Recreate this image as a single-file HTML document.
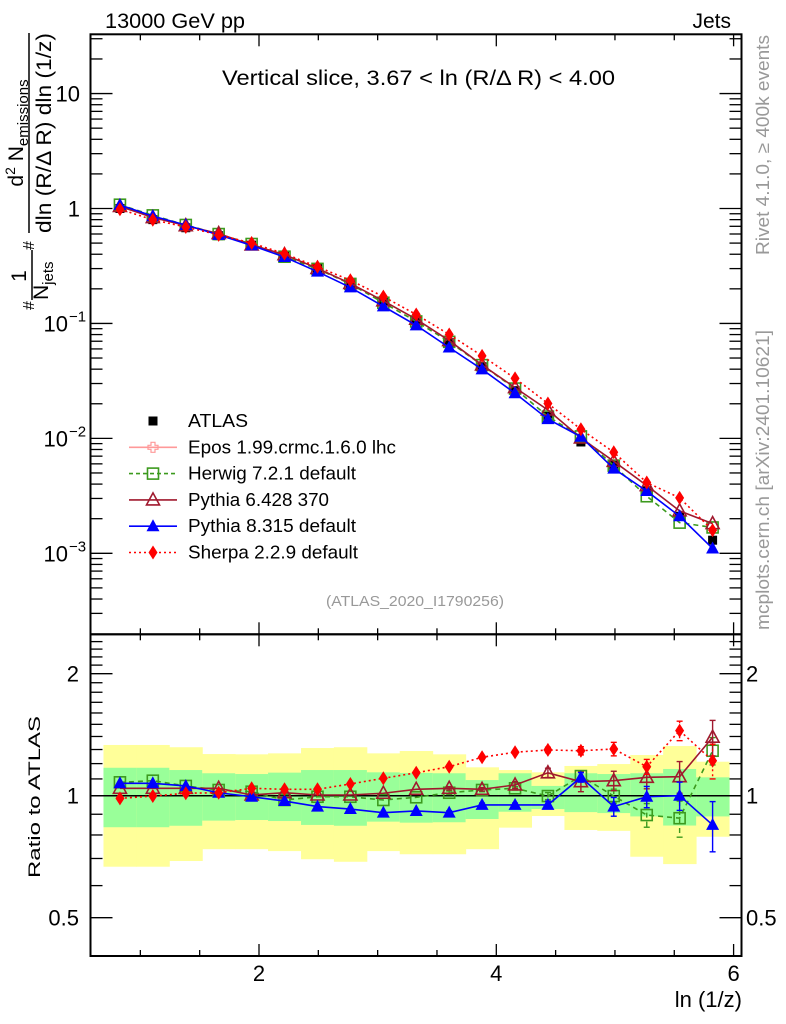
<!DOCTYPE html>
<html><head><meta charset="utf-8"><style>
html,body{margin:0;padding:0;background:#fff;}
svg{display:block;font-family:"Liberation Sans",Arial,sans-serif;}
</style></head><body>
<svg id="chart" width="786" height="1024" viewBox="0 0 786 1024" xmlns="http://www.w3.org/2000/svg">
<defs>
<clipPath id="cm"><rect x="90.5" y="34.3" width="651" height="600"/></clipPath>
<clipPath id="cr"><rect x="90.5" y="634.3" width="651" height="321.7"/></clipPath>
</defs>
<g id="bands" clip-path="url(#cr)"></g>
<g id="grid"></g>
<text x="105" y="28" font-size="21" textLength="140" lengthAdjust="spacingAndGlyphs">13000 GeV pp</text>
<text x="731" y="28" font-size="21" text-anchor="end">Jets</text>
<text x="222" y="85" font-size="21" textLength="393" lengthAdjust="spacingAndGlyphs">Vertical slice, 3.67 &lt; ln (R/Δ R) &lt; 4.00</text>
<text x="326" y="606" font-size="15" fill="#999" textLength="178" lengthAdjust="spacingAndGlyphs">(ATLAS_2020_I1790256)</text>
<text transform="translate(769,255) rotate(-90)" font-size="18" fill="#999" textLength="220" lengthAdjust="spacingAndGlyphs">Rivet 4.1.0, ≥ 400k events</text>
<text transform="translate(769,630) rotate(-90)" font-size="18" fill="#999" textLength="300" lengthAdjust="spacingAndGlyphs">mcplots.cern.ch [arXiv:2401.10621]</text>
<g>
<text transform="translate(51,233) rotate(-90)" font-size="21" textLength="200" lengthAdjust="spacingAndGlyphs">dln (R/Δ R) dln (1/z)</text>
<line x1="29" y1="33" x2="29" y2="233" stroke="#000" stroke-width="1.5"/>
<text transform="translate(23,133) rotate(-90)" font-size="21" text-anchor="middle">d<tspan font-size="14" dy="-8">2</tspan><tspan dy="8"> N</tspan><tspan font-size="15" dy="5">emissions</tspan></text>
<text transform="translate(26,276) rotate(-90)" font-size="21" text-anchor="middle">1</text>
<line x1="32" y1="250" x2="32" y2="300" stroke="#000" stroke-width="1.5"/>
<text transform="translate(48,300) rotate(-90)" font-size="21">N<tspan font-size="15" dy="5">jets</tspan></text>
<text transform="translate(34,310) rotate(-90)" font-size="16">#</text>
<text transform="translate(34,250) rotate(-90)" font-size="16">#</text>
</g>
<text transform="translate(40,878) rotate(-90)" font-size="17" textLength="162" lengthAdjust="spacingAndGlyphs">Ratio to ATLAS</text>
<text x="742" y="1007" font-size="22" text-anchor="end">ln (1/z)</text>
<g id="marks"></g>
<g id="legend"></g>
<rect x="90.5" y="34.3" width="651" height="600" fill="none" stroke="#000" stroke-width="2"/>
<rect x="90.5" y="634.3" width="651" height="321.7" fill="none" stroke="#000" stroke-width="2"/>
</svg>
<script>
const xCenters=[0.828,1.105,1.383,1.660,1.938,2.215,2.493,2.770,3.048,3.325,3.603,3.880,4.158,4.435,4.713,4.990,5.268,5.545,5.823];
const atlas=[1.0,0.80,0.68,0.58,0.48,0.39,0.30,0.222,0.155,0.105,0.068,0.042,0.026,0.0155,0.0093,0.0058,0.0035,0.0021,0.0013];
const rHerwig=[1.079,1.089,1.057,1.033,1.023,0.976,0.994,0.994,0.976,0.991,1.017,1.033,1.043,0.998,1.118,0.998,0.896,0.880,1.291];
const rPythia6=[1.043,1.043,1.043,1.043,1.004,1.017,1.004,1.004,1.014,1.037,1.043,1.037,1.063,1.139,1.083,1.089,1.110,1.114,1.394];
const rPythia8=[1.073,1.073,1.057,1.017,0.994,0.970,0.940,0.927,0.908,0.917,0.908,0.949,0.949,0.949,1.110,0.940,0.994,1.0,0.847];
const rSherpa=[0.985,0.998,1.014,1.017,1.043,1.037,1.037,1.069,1.104,1.139,1.179,1.244,1.280,1.297,1.291,1.304,1.179,1.447,1.22];
const eHerwig=[0,0,0,0,0,0,0,0,0,0,0.01,0.01,0.01,0.02,0.03,0.04,0.06,0.09,0.10];
const ePythia6=[0,0,0,0,0,0,0,0,0,0,0.01,0.01,0.02,0.03,0.06,0.06,0.07,0.10,0.14];
const ePythia8=[0,0,0,0,0,0,0,0,0,0,0.01,0.01,0.01,0.02,0.03,0.05,0.06,0.08,0.12];
const eSherpa=[0,0,0,0,0,0,0,0,0,0,0.01,0.01,0.01,0.02,0.03,0.05,0.05,0.08,0.12];
const yellowHi=[1.334,1.334,1.317,1.267,1.265,1.272,1.311,1.317,1.272,1.289,1.265,1.175,1.157,1.142,1.184,1.197,1.260,1.326,1.213];
const yellowLo=[0.668,0.668,0.690,0.738,0.738,0.730,0.697,0.687,0.730,0.717,0.717,0.738,0.834,0.891,0.823,0.819,0.707,0.678,0.792];
const greenHi=[1.172,1.172,1.157,1.136,1.131,1.140,1.157,1.157,1.142,1.138,1.136,1.093,1.136,1.057,1.136,1.131,1.136,1.164,1.110];
const greenLo=[0.836,0.836,0.843,0.868,0.871,0.866,0.847,0.843,0.863,0.858,0.860,0.876,0.913,0.927,0.911,0.906,0.889,0.844,0.889];
const mainTickLabels=[["10",1],["1",0],["10","-1"],["10","-2"],["10","-3"]];
const ratioTicks=[2,1,0.5];
const xTicks=[2,4,6];

const NS="http://www.w3.org/2000/svg";
const X0=90.5,X1=741.5,YT=34.3,YS=634.3,YB=956;
const BW=0.2775;
function xS(x){return 259+118.65*(x-2);}
function yM(v){return 208.5-114.93*Math.log10(v);}
function yR(r){return 795.7-122*Math.log2(r);}
function mk(tag,attrs,parent){const e=document.createElementNS(NS,tag);for(const k in attrs)e.setAttribute(k,attrs[k]);parent.appendChild(e);return e;}
const bands=document.getElementById('bands'),grid=document.getElementById('grid'),marks=document.getElementById('marks'),legend=document.getElementById('legend');

xCenters.forEach((x,i)=>{
 const a=xS(x-BW/2),b=xS(x+BW/2);
 const y=mk('rect',{x:a,y:yR(yellowHi[i]),width:b-a+0.5,height:yR(yellowLo[i])-yR(yellowHi[i]),fill:'#ffff99'},bands);
 
 
 const g=mk('rect',{x:a,y:yR(greenHi[i]),width:b-a+0.5,height:yR(greenLo[i])-yR(greenHi[i]),fill:'#99ff99'},bands);
 
 
});
const ul=mk('line',{x1:X0,x2:X1,y1:yR(1),y2:yR(1),stroke:'#000','stroke-width':1.5},grid);



for(let d=-4;d<=1;d++){for(let m=1;m<10;m++){const v=m*Math.pow(10,d);const y=yM(v);if(y<YT+1||y>YS-1)continue;const L=m===1?22:12;
 mk('line',{x1:X0,x2:X0+L,y1:y,y2:y,stroke:'#000','stroke-width':1.3},grid);
 mk('line',{x1:X1-L,x2:X1,y1:y,y2:y,stroke:'#000','stroke-width':1.3},grid);}}
mainTickLabels.forEach(t=>{
 const v=t[1]===1?10:(t[1]===0?1:Math.pow(10,+t[1]));const y=yM(v)+8;
 const tx=mk('text',{x:t[1]===1||t[1]===0?80:68,y:y,'font-size':22,'text-anchor':'end'},grid);
 
 
 tx.textContent=t[0];
 if(t[1]!==1&&t[1]!==0){const s=mk('text',{x:69,y:y-10,'font-size':15},grid);s.textContent='−'+String(t[1]).slice(1);}
});
for(let r=0.4;r<=2.5;r+=0.1){const y=yR(r);if(y<YS+1||y>YB-1)continue;const maj=Math.abs(r-1)<1e-6||Math.abs(r-2)<1e-6||Math.abs(r-0.5)<1e-6;const L=maj?22:12;
 mk('line',{x1:X0,x2:X0+L,y1:y,y2:y,stroke:'#000','stroke-width':1.3},grid);
 mk('line',{x1:X1-L,x2:X1,y1:y,y2:y,stroke:'#000','stroke-width':1.3},grid);}
ratioTicks.forEach(r=>{
 const t=mk('text',{x:79,y:yR(r)+8,'font-size':22,'text-anchor':'end'},grid);
 
 
 t.textContent=String(r);
 const t2=mk('text',{x:746,y:yR(r)+8,'font-size':22},grid);
 
 
 t2.textContent=String(r);
});
for(let x=0.5;x<=6.05;x+=0.5){const px=xS(x);if(px<X0+1||px>X1)continue;const maj=Math.abs(x%2)<1e-6;const L=maj?12:6;
 [[YT,1],[YS,-1],[YS,1],[YB,-1]].forEach(p=>mk('line',{x1:px,x2:px,y1:p[0],y2:p[0]+p[1]*L,stroke:'#000','stroke-width':1.3},grid));}
xTicks.forEach(x=>{const t=mk('text',{x:xS(x),y:981,'font-size':22,'text-anchor':'middle'},grid);
 
 
 t.textContent=String(x);});

function marker(kind,cx,cy,color,parent){
 if(kind==='sq')return mk('rect',{x:cx-4.5,y:cy-4.5,width:9,height:9,fill:color},parent);
 if(kind==='osq')return mk('rect',{x:cx-5.5,y:cy-5.5,width:11,height:11,fill:'none',stroke:color,'stroke-width':1.6},parent);
 if(kind==='otri')return mk('polygon',{points:`${cx},${cy-7} ${cx-6.5},${cy+5} ${cx+6.5},${cy+5}`,fill:'none',stroke:color,'stroke-width':1.6},parent);
 if(kind==='tri')return mk('polygon',{points:`${cx},${cy-7} ${cx-6.5},${cy+5} ${cx+6.5},${cy+5}`,fill:color},parent);
 if(kind==='dia')return mk('polygon',{points:`${cx},${cy-7} ${cx-4.5},${cy} ${cx},${cy+7} ${cx+4.5},${cy}`,fill:color},parent);
 if(kind==='cross')return mk('path',{d:`M${cx-2},${cy-5}h4v3h3v4h-3v3h-4v-3h-3v-4h3z`,fill:'none',stroke:color,'stroke-width':1.2},parent);
}
const gm=mk('g',{'clip-path':'url(#cm)'},marks);
const gr=mk('g',{'clip-path':'url(#cr)'},marks);
xCenters.forEach((x,i)=>{const m=marker('sq',xS(x),yM(atlas[i]),'#000',gm);
 
 });
const series=[
 {name:'herwig',r:rHerwig,e:eHerwig,color:'#3c9a1e',dash:'5,4',kind:'osq'},
 {name:'pythia6',r:rPythia6,e:ePythia6,color:'#a0192e',dash:'',kind:'otri'},
 {name:'pythia8',r:rPythia8,e:ePythia8,color:'#0000ff',dash:'',kind:'tri'},
 {name:'sherpa',r:rSherpa,e:eSherpa,color:'#ff0000',dash:'2,3',kind:'dia'}];
series.forEach(s=>{
 const ptsM=xCenters.map((x,i)=>xS(x)+','+yM(atlas[i]*s.r[i])).join(' ');
 const ptsR=xCenters.map((x,i)=>xS(x)+','+yR(s.r[i])).join(' ');
 const lm=mk('polyline',{points:ptsM,fill:'none',stroke:s.color,'stroke-width':1.6,'stroke-dasharray':s.dash},gm);
 
 
 const lr=mk('polyline',{points:ptsR,fill:'none',stroke:s.color,'stroke-width':1.6,'stroke-dasharray':s.dash},gr);
 
 
 xCenters.forEach((x,i)=>{
  if(s.e[i]>0){const px=xS(x);const y1=yR(s.r[i]+s.e[i]),y2=yR(s.r[i]-s.e[i]);
   mk('line',{x1:px,x2:px,y1:y1,y2:y2,stroke:s.color,'stroke-width':1.4,'stroke-dasharray':s.dash},gr);
   mk('line',{x1:px-3,x2:px+3,y1:y1,y2:y1,stroke:s.color,'stroke-width':1.4},gr);
   mk('line',{x1:px-3,x2:px+3,y1:y2,y2:y2,stroke:s.color,'stroke-width':1.4},gr);}
  const m1=marker(s.kind,xS(x),yM(atlas[i]*s.r[i]),s.color,gm);
  
  
  const m2=marker(s.kind,xS(x),yR(s.r[i]),s.color,gr);
  
  
 });
});
const legItems=[['ATLAS','#000','','sq',false,60],['Epos 1.99.crmc.1.6.0 lhc','#ff9999','','cross',true,208],['Herwig 7.2.1 default','#3c9a1e','4,3','osq',true,168],['Pythia 6.428 370','#a0192e','','otri',true,141],['Pythia 8.315 default','#0000ff','','tri',true,168],['Sherpa 2.2.9 default','#ff0000','2,3','dia',true,170]];
legItems.forEach((it,k)=>{
 const y=421+26.3*k;
 const g=mk('g',{},legend);
 
 
 if(it[4])mk('line',{x1:129,x2:177,y1:y,y2:y,stroke:it[1],'stroke-width':1.6,'stroke-dasharray':it[2]},g);
 marker(it[3],153,y,it[1],g);
 const t=mk('text',{x:188,y:y+6,'font-size':18,textLength:it[5],lengthAdjust:'spacingAndGlyphs'},g);t.textContent=it[0];
});
</script>
</body></html>
